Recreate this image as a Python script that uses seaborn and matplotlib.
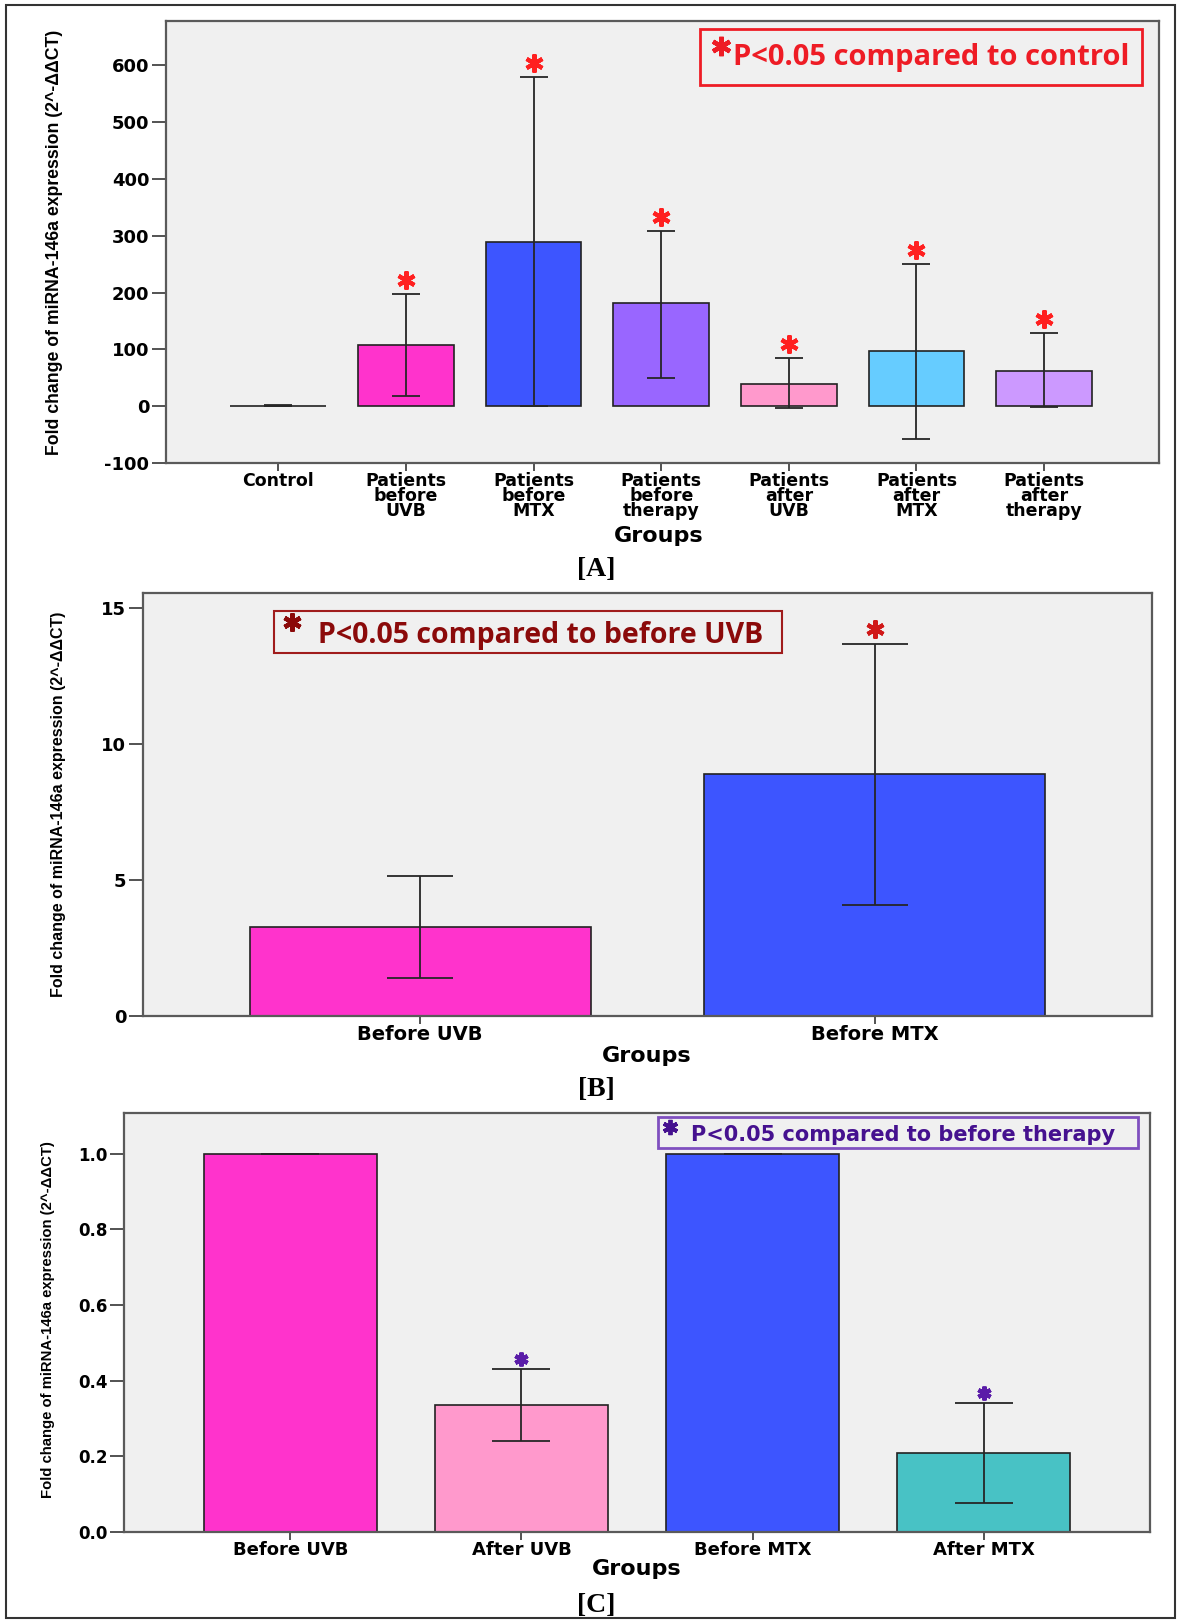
import numpy as np
import pandas as pd
import matplotlib
matplotlib.use('Agg')
import matplotlib.pyplot as plt
import seaborn as sns
from matplotlib.patches import Rectangle
from matplotlib.lines import Line2D
from matplotlib.transforms import offset_copy

# ---- data ----
groups_a = ['Control', 'Patients\nbefore\nUVB', 'Patients\nbefore\nMTX', 'Patients\nbefore\ntherapy',
            'Patients\nafter\nUVB', 'Patients\nafter\nMTX', 'Patients\nafter\ntherapy']
mean_a = [1, 107, 289, 181, 39, 97, 62]
low_a = [1, 18, 0, 49, -4, -57, -2]
high_a = [2, 197, 579, 308, 84, 250, 129]
colors_a = ['#8c8c8c', '#ff33cc', '#3d55ff', '#9966ff', '#ff99cc', '#66ccff', '#cc99ff']
star_a = [False, True, True, True, True, True, True]

groups_b = ['Before UVB', 'Before MTX']
mean_b = [3.27, 8.9]
low_b = [1.40, 4.08]
high_b = [5.15, 13.68]
colors_b = ['#ff33cc', '#3d55ff']
star_b = [False, True]

groups_c = ['Before UVB', 'After UVB', 'Before MTX', 'After MTX']
mean_c = [1.0, 0.336, 1.0, 0.209]
low_c = [1.0, 0.241, 1.0, 0.077]
high_c = [1.0, 0.431, 1.0, 0.341]
colors_c = ['#ff33cc', '#ff99cc', '#3d55ff', '#48c2c5']
star_c = [False, True, False, True]

ylabel = 'Fold change of miRNA-146a expression (2^-ΔΔCT)'

W, H = 1179, 1620
fig = plt.figure(figsize=(W / 100, H / 100), dpi=100)
fig.patch.set_facecolor('white')


def fx(x):
    return x / W


def fy(y):
    return 1 - y / H


def panel(box, groups, mean, low, high, colors, stars, star_color, ylim, yticks, ytl,
          cap, star_off, star_ms, ytick_fs, xtick_fs, ylab_fs, ylab_xy, grp_xy):
    left, top, right, bottom = box
    ax = fig.add_axes([fx(left), fy(bottom), (right - left) / W, (bottom - top) / H])
    ax.set_facecolor('#f0f0f0')
    df = pd.DataFrame({'group': groups, 'value': mean})
    sns.barplot(data=df, x='group', y='value', hue='group', palette=colors, width=0.75,
                saturation=1, edgecolor='#222222', linewidth=1.2, errorbar=None,
                legend=False, ax=ax)
    mean = np.array(mean, dtype=float)
    yerr = [mean - np.array(low), np.array(high) - mean]
    ax.errorbar(np.arange(len(groups)), mean, yerr=yerr, fmt='none', ecolor='#262626',
                elinewidth=1.3, capsize=cap, capthick=1.3, zorder=5)
    tr = offset_copy(ax.transData, fig=fig, y=star_off, units='dots')
    for i, s in enumerate(stars):
        if s:
            ax.plot(i, high[i], marker=(6, 2, 0), ms=star_ms, mew=3, color=star_color,
                    transform=tr, clip_on=False, zorder=6)
    ax.set_ylim(*ylim)
    ax.set_yticks(yticks)
    ax.set_yticklabels(ytl)
    for sp in ax.spines.values():
        sp.set_color('#5a5a5a')
        sp.set_linewidth(1.6)
    ax.tick_params(axis='y', length=10, width=1.3, color='#444444', labelsize=ytick_fs, pad=2)
    ax.tick_params(axis='x', length=6, width=1.3, color='#444444', labelsize=xtick_fs, pad=0.5)
    for lbl in ax.get_yticklabels() + ax.get_xticklabels():
        lbl.set_fontweight('bold')
        lbl.set_linespacing(0.78)
    ax.set_ylabel(ylabel, fontsize=ylab_fs, fontweight='bold',
                  family=['Liberation Sans', 'DejaVu Sans'])
    ax.yaxis.set_label_coords(*ylab_xy)
    ax.yaxis.label.set_va('center')
    ax.set_xlabel('Groups', fontsize=16, fontweight='bold')
    ax.xaxis.set_label_coords(*grp_xy)
    ax.xaxis.label.set_va('center')
    return ax


# [A]
ax_a = panel((166, 21, 1159, 463), groups_a, mean_a, low_a, high_a, colors_a, star_a, '#ff2020',
             (-100, 678), [-100, 0, 100, 200, 300, 400, 500, 600],
             ['-100', '0', '100', '200', '300', '400', '500', '600'],
             10, 14, 13, 13, 12.5, 12.7, (-0.112, 0.5), (0.496, -0.165))
ax_a.set_xlim(-0.88, 6.9)

# [B]
ax_b = panel((143, 593, 1152, 1016), groups_b, mean_b, low_b, high_b, colors_b, star_b, '#d01818',
             (0, 15.55), [0, 5, 10, 15], ['0', '5', '10', '15'],
             24, 15, 13, 13, 14, 11.5, (-0.084, 0.5), (0.499, -0.094))
ax_b.set_xlim(-0.61, 1.61)

# [C]
ax_c = panel((124, 1113, 1150, 1532), groups_c, mean_c, low_c, high_c, colors_c, star_c, '#5a1ca8',
             (0, 1.108), [0, 0.2, 0.4, 0.6, 0.8, 1.0], ['0.0', '0.2', '0.4', '0.6', '0.8', '1.0'],
             21, 10, 10, 12, 13, 10.7, (-0.074, 0.506), (0.5, -0.088))
ax_c.set_xlim(-0.72, 3.72)

# legend boxes
fig.add_artist(Rectangle((fx(700), fy(85)), 442 / W, 56 / H, transform=fig.transFigure,
                         facecolor='#f0f0f0', edgecolor='#ee1c25', lw=2, zorder=10))
fig.text(fx(733), fy(65), 'P<0.05 compared to control', color='#ee1c25', fontsize=21,
         fontweight='bold', family=['Open Sans', 'DejaVu Sans'], va='baseline', zorder=11)
fig.add_artist(Line2D([fx(721)], [fy(46)], marker=(6, 2, 0), ms=14, mew=3.2, color='#ee1c25',
                      transform=fig.transFigure, zorder=11))

fig.add_artist(Rectangle((fx(274), fy(653)), 508 / W, 42 / H, transform=fig.transFigure,
                         facecolor='#f0f0f0', edgecolor='#a01c1c', lw=1.5, zorder=10))
fig.text(fx(318), fy(643), 'P<0.05 compared to before UVB', color='#8b0a0a', fontsize=20.5,
         fontweight='bold', family=['Open Sans', 'DejaVu Sans'], va='baseline', zorder=11)
fig.add_artist(Line2D([fx(292)], [fy(622)], marker=(6, 2, 0), ms=13, mew=3.2, color='#8b0a0a',
                      transform=fig.transFigure, zorder=11))

fig.add_artist(Rectangle((fx(658), fy(1148)), 480 / W, 31 / H, transform=fig.transFigure,
                         facecolor='#f0f0f0', edgecolor='#7f4fbf', lw=2, zorder=10))
fig.text(fx(691), fy(1141), 'P<0.05 compared to before therapy', color='#45118f', fontsize=15,
         fontweight='bold', family='DejaVu Sans', va='baseline', zorder=11)
fig.add_artist(Line2D([fx(670)], [fy(1127)], marker=(6, 2, 0), ms=11, mew=2.8, color='#45118f',
                      transform=fig.transFigure, zorder=11))

# panel letters
for lab, y in [('[A]', 570), ('[B]', 1090), ('[C]', 1605)]:
    fig.text(fx(596), fy(y), lab, ha='center', va='center', fontsize=20, fontweight='bold',
             family=['Liberation Serif', 'DejaVu Serif'])

# outer frame
fig.add_artist(Rectangle((fx(6), fy(1618)), 1169 / W, 1613 / H, transform=fig.transFigure,
                         fill=False, edgecolor='#333333', lw=1.5))

fig.savefig('out.png', dpi=100)
